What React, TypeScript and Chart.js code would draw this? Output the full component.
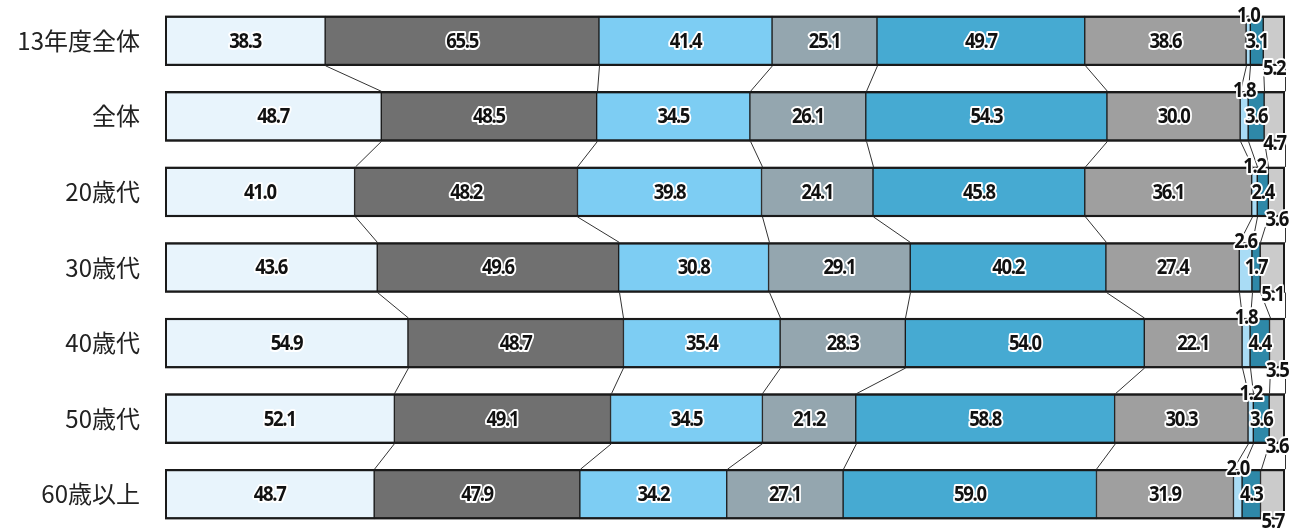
import React, { useEffect, useRef } from "react";
import { Chart, registerables } from "chart.js";

Chart.register(...registerables);

const categories = ["13年度全体", "全体", "20歳代", "30歳代", "40歳代", "50歳代", "60歳以上"];

const series1 = [38.3, 48.7, 41.0, 43.6, 54.9, 52.1, 48.7];
const series2 = [65.5, 48.5, 48.2, 49.6, 48.7, 49.1, 47.9];
const series3 = [41.4, 34.5, 39.8, 30.8, 35.4, 34.5, 34.2];
const series4 = [25.1, 26.1, 24.1, 29.1, 28.3, 21.2, 27.1];
const series5 = [49.7, 54.3, 45.8, 40.2, 54.0, 58.8, 59.0];
const series6 = [38.6, 30.0, 36.1, 27.4, 22.1, 30.3, 31.9];
const series7 = [1.0, 1.8, 1.2, 2.6, 1.8, 1.2, 2.0];
const series8 = [3.1, 3.6, 2.4, 1.7, 4.4, 3.6, 4.3];
const series9 = [5.2, 4.7, 3.6, 5.1, 3.5, 3.6, 5.7];

const allSeries = [series1, series2, series3, series4, series5, series6, series7, series8, series9];
const colors = ["#E8F4FC", "#707070", "#7DCDF3", "#94A6AF", "#46AAD2", "#9F9F9F", "#A9DCF5", "#2E88A8", "#CBCBCB"];
// label placement per series: 0 center, -1 above top edge, 1 below bottom edge
const labelPlace = [0, 0, 0, 0, 0, 0, -1, 0, 1];

const rowTotals = categories.map((_, j) => allSeries.reduce((s, arr) => s + arr[j], 0));

const overlayPlugin = {
  id: "overlay",
  afterDatasetsDraw(chart: any) {
    const ctx = chart.ctx;
    const xs = chart.scales.x;
    const n = categories.length;
    ctx.save();
    ctx.strokeStyle = "#1a1a1a";
    ctx.lineWidth = 2;
    const first = chart.getDatasetMeta(0).data;
    for (let j = 0; j < n; j++) {
      const el = first[j];
      const top = el.y - el.height / 2;
      const left = xs.getPixelForValue(0);
      const right = xs.getPixelForValue(100);
      ctx.strokeRect(left + 1, top + 1, right - left - 2, el.height - 2);
    }
    ctx.strokeStyle = "#333";
    ctx.lineWidth = 1;
    for (let j = 0; j < n - 1; j++) {
      let c1 = 0;
      let c2 = 0;
      const a = first[j];
      const b = first[j + 1];
      const yBottom = a.y + a.height / 2;
      const yTop = b.y - b.height / 2;
      for (let k = 0; k < allSeries.length; k++) {
        c1 += allSeries[k][j];
        c2 += allSeries[k][j + 1];
        const x1 = xs.getPixelForValue((c1 / rowTotals[j]) * 100);
        const x2 = xs.getPixelForValue((c2 / rowTotals[j + 1]) * 100);
        ctx.beginPath();
        ctx.moveTo(Math.round(x1) + 0.5, yBottom);
        ctx.lineTo(Math.round(x2) + 0.5, yTop);
        ctx.stroke();
      }
    }
    ctx.font = "700 21px 'Open Sans'";
    (ctx as any).letterSpacing = "-1.5px";
    ctx.textAlign = "center";
    ctx.textBaseline = "middle";
    ctx.lineJoin = "round";
    for (let k = 0; k < allSeries.length; k++) {
      const meta = chart.getDatasetMeta(k);
      for (let j = 0; j < n; j++) {
        const el = meta.data[j];
        const cx = (el.x + el.base) / 2;
        let cy = el.y;
        if (labelPlace[k] === -1) cy = el.y - el.height / 2 - 1;
        if (labelPlace[k] === 1) cy = el.y + el.height / 2 + 2;
        const txt = allSeries[k][j].toFixed(1);
        ctx.save();
        ctx.translate(cx, cy + 1);
        ctx.scale(0.88, 1);
        ctx.strokeStyle = "#ffffff";
        ctx.lineWidth = 4;
        ctx.strokeText(txt, 0, 0);
        ctx.fillStyle = "#111";
        ctx.fillText(txt, 0, 0);
        ctx.restore();
      }
    }
    (ctx as any).letterSpacing = "0px";
    ctx.restore();
  },
};

export default function App() {
  const ref = useRef<HTMLCanvasElement | null>(null);
  useEffect(() => {
    if (!ref.current) return;
    const datasets = allSeries.map((arr, k) => ({
      label: "系列" + (k + 1),
      data: arr.map((v, j) => (v / rowTotals[j]) * 100),
      backgroundColor: colors[k],
      borderColor: "#1a1a1a",
      borderWidth: { top: 2, bottom: 2, left: 1, right: 1 },
      borderSkipped: false,
      barThickness: 50,
    }));
    const chart = new Chart(ref.current, {
      type: "bar",
      data: { labels: categories, datasets },
      options: {
        indexAxis: "y",
        animation: false,
        responsive: true,
        maintainAspectRatio: false,
        layout: { padding: { top: 3, bottom: 0, left: 0, right: 9 } },
        plugins: { legend: { display: false }, tooltip: { enabled: false } },
        scales: {
          x: { stacked: true, min: 0, max: 100, display: false },
          y: {
            stacked: true,
            grid: { display: false, drawTicks: false },
            border: { display: false },
            ticks: {
              padding: 25,
              color: "#222",
              font: { family: "'Noto Sans CJK JP'", size: 24, weight: "normal" },
            },
            afterFit: (scale: any) => {
              scale.width = 165;
              scale.paddingTop = 0;
              scale.paddingBottom = 0;
            },
          },
        },
      },
      plugins: [overlayPlugin],
    });
    return () => chart.destroy();
  }, []);
  return (
    <div style={{ position: "fixed", left: 0, top: 0, width: 1294, height: 532, background: "#fff" }}>
      <canvas ref={ref} />
    </div>
  );
}
